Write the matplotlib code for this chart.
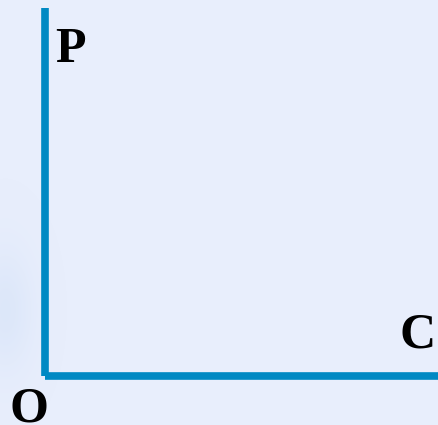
import numpy as np
import matplotlib.pyplot as plt

# axis labels of the diagram
y_label = 'P'
x_label = 'C'
origin_label = 'O'

bg = '#e8eefc'
axis_color = '#0089c3'

fig = plt.figure(figsize=(4.38, 4.25), dpi=100, facecolor=bg)

# faint cloudy texture on the left edge of the slide background
bgax = fig.add_axes([0, 0, 1, 1], zorder=0)
bgax.set_xlim(0, 438)
bgax.set_ylim(425, 0)
bgax.axis('off')
gx, gy = np.meshgrid(np.arange(438), np.arange(425))
blob = np.exp(-(((gx - 5) / 28.0) ** 2 + ((gy - 310) / 60.0) ** 2))
rgba = np.zeros((425, 438, 4))
rgba[..., 0] = 0.82
rgba[..., 1] = 0.88
rgba[..., 2] = 0.97
rgba[..., 3] = 0.5 * blob
bgax.imshow(rgba, extent=(0, 438, 425, 0), interpolation='bilinear')

ax = fig.add_axes([45 / 438, 49.3 / 425, 393 / 438, 367.7 / 425], zorder=1)
ax.patch.set_alpha(0)
for side in ['top', 'right']:
    ax.spines[side].set_visible(False)
for side in ['left', 'bottom']:
    ax.spines[side].set_color(axis_color)
    ax.spines[side].set_linewidth(5.5)
    ax.spines[side].set_capstyle('butt')
ax.set_xticks([])
ax.set_yticks([])

font = dict(family='Liberation Serif', weight='bold', size=36, color='black',
            ha='left', va='baseline')
fig.text(55 / 438, 1 - 62.3 / 425, y_label, **font)
fig.text(400 / 438, 1 - 347 / 425, x_label, **font)
fig.text(9 / 438, 1 - 421 / 425, origin_label, **font)

fig.savefig('out.png', dpi=100, facecolor=bg)
